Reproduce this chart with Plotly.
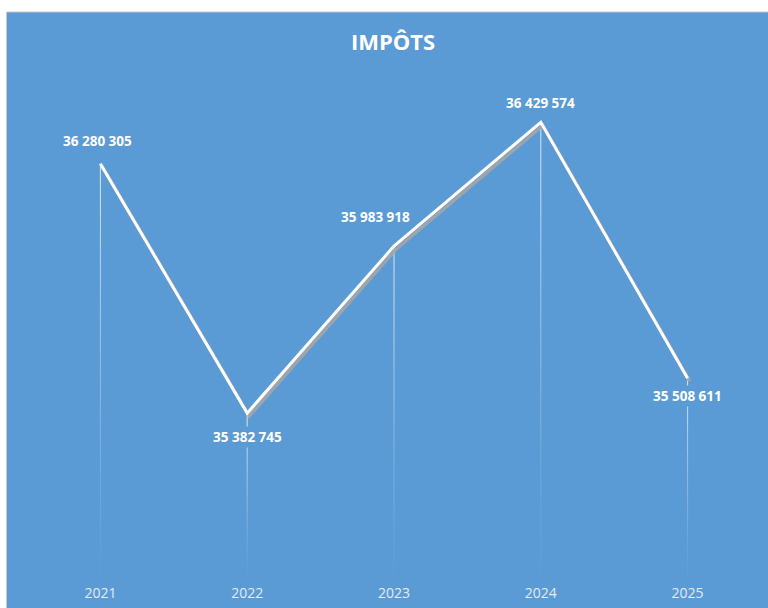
import plotly.graph_objects as go

years = ["2021", "2022", "2023", "2024", "2025"]
values = [36280305, 35382745, 35983918, 36429574, 35508611]
labels = ["36 280 305", "35 382 745", "35 983 918", "36 429 574", "35 508 611"]

BLUE = "#5B9BD5"
Y_MIN, Y_MAX = 34800000, 36600000
W, H = 768, 608
ML, MR, MT, MB = 26.5, 6.5, 75, 33
plot_w = W - ML - MR
plot_h = H - MT - MB
val_per_px = (Y_MAX - Y_MIN) / plot_h
cat_per_px = 5 / plot_w

fig = go.Figure()

# fading drop lines (segmented, decreasing opacity)
n_seg = 24
for k in range(n_seg):
    xs, ys = [], []
    for yr, v in zip(years, values):
        top = v - (v - Y_MIN) * k / n_seg
        bot = v - (v - Y_MIN) * (k + 1) / n_seg
        xs += [yr, yr, None]
        ys += [top, bot, None]
    alpha = 0.85 * (1 - k / n_seg) ** 1.3 + 0.03
    fig.add_trace(go.Scatter(x=xs, y=ys, mode="lines",
                             line=dict(color=f"rgba(235,243,250,{alpha:.3f})", width=1),
                             hoverinfo="skip", showlegend=False))

# shadow of main line (offset axes)
fig.add_trace(go.Scatter(x=years, y=values, mode="lines", xaxis="x2", yaxis="y2",
                         line=dict(color="rgba(165,165,165,0.9)", width=3.5),
                         hoverinfo="skip", showlegend=False))
# main line (drawn above shadow)
fig.add_trace(go.Scatter(x=years, y=values, mode="lines", xaxis="x3", yaxis="y3",
                         line=dict(color="white", width=3),
                         showlegend=False))

# data labels
positions = [(-3, 23), (0, -24), (-19, 29), (0, 19), (0, -18)]
for i, (v, lab, (dx, dy)) in enumerate(zip(values, labels, positions)):
    fig.add_annotation(x=i, y=v, xref="x", yref="y", text=f"<b>{lab}</b>",
                       showarrow=False, xshift=dx, yshift=dy,
                       font=dict(family="Open Sans", size=13.5, color="white"),
                       bgcolor=BLUE, borderpad=1)

# background panel
x0 = (6 - ML) / plot_w
x1 = (W + 2 - ML) / plot_w
y1 = (H - MB - 12) / plot_h
y0 = -(MB + 2) / plot_h
fig.add_shape(type="rect", xref="paper", yref="paper", x0=x0, x1=x1, y0=y0, y1=y1,
              fillcolor=BLUE, line=dict(color="#C8C8C8", width=1), layer="below")

shift_cat = 2 * cat_per_px
shift_val = 3 * val_per_px

fig.update_layout(
    width=W, height=H,
    margin=dict(l=ML, r=MR, t=MT, b=MB),
    paper_bgcolor="white",
    plot_bgcolor=BLUE,
    title=dict(text="<b>IMPÔTS</b>", x=(393) / W, xanchor="center", y=1 - 42 / H,
               yanchor="middle", yref="container", xref="container",
               font=dict(family="Open Sans", size=22, color="white")),
    xaxis=dict(type="category", range=[-0.5, 4.5], showgrid=False, zeroline=False,
               showline=False, ticks="", ticklabelstandoff=8,
               tickfont=dict(family="Open Sans", size=14, color="#E2EAF3")),
    yaxis=dict(range=[Y_MIN, Y_MAX], visible=False),
    xaxis2=dict(type="category", overlaying="x", range=[-0.5 - shift_cat, 4.5 - shift_cat],
                visible=False),
    yaxis2=dict(overlaying="y", range=[Y_MIN + shift_val, Y_MAX + shift_val], visible=False),
    xaxis3=dict(type="category", overlaying="x", range=[-0.5, 4.5], visible=False),
    yaxis3=dict(overlaying="y", range=[Y_MIN, Y_MAX], visible=False),
)

fig.write_html("out.html", config={"displayModeBar": False},
               post_script="document.body.style.margin='0';")
